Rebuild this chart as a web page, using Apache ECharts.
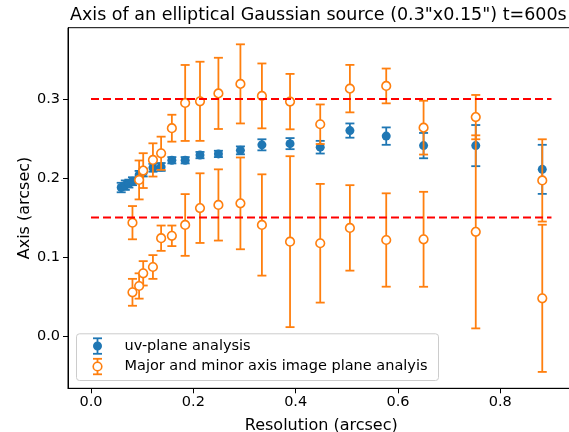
<!DOCTYPE html>
<html>
<head>
<meta charset="utf-8">
<script src="https://cdn.jsdelivr.net/npm/echarts@6/dist/echarts.min.js"></script>
<style>html,body{margin:0;padding:0;background:#fff}#c{width:569px;height:432px}</style>
</head>
<body>
<div id="c"></div>
<script>
// ---- data ----
var titleText = 'Axis of an elliptical Gaussian source (0.3"x0.15") t=600s';
var xLabel = 'Resolution (arcsec)';
var yLabel = 'Axis (arcsec)';
var xTicks = [0.0, 0.2, 0.4, 0.6, 0.8];
var yTicks = [0.0, 0.1, 0.2, 0.3];

var uvX   = [0.059, 0.067, 0.074, 0.081, 0.094, 0.102, 0.121, 0.137, 0.158, 0.184, 0.213, 0.249, 0.292, 0.334, 0.389, 0.448, 0.506, 0.577, 0.650, 0.752, 0.882];
var uvY   = [0.188, 0.191, 0.193, 0.196, 0.204, 0.207, 0.213, 0.214, 0.2225, 0.2225, 0.229, 0.2305, 0.235, 0.242, 0.2435, 0.239, 0.260, 0.253, 0.241, 0.241, 0.211];
var uvErr = [0.006, 0.006, 0.005, 0.005, 0.005, 0.005, 0.005, 0.005, 0.004, 0.004, 0.004, 0.004, 0.005, 0.007, 0.007, 0.008, 0.009, 0.011, 0.016, 0.026, 0.031];

var imgX     = [0.081, 0.094, 0.102, 0.121, 0.137, 0.158, 0.184, 0.213, 0.249, 0.292, 0.334, 0.389, 0.448, 0.506, 0.577, 0.650, 0.752, 0.882];
var majorY   = [0.1436, 0.1976, 0.2094, 0.2229, 0.2313, 0.263, 0.2949, 0.297, 0.307, 0.319, 0.3038, 0.2966, 0.268, 0.313, 0.3164, 0.2637, 0.277, 0.197];
var majorErr = [0.021, 0.0246, 0.022, 0.021, 0.021, 0.017, 0.048, 0.050, 0.045, 0.050, 0.041, 0.035, 0.025, 0.030, 0.022, 0.034, 0.028, 0.052];
var minorY   = [0.0556, 0.0636, 0.0796, 0.0876, 0.124, 0.127, 0.1407, 0.162, 0.166, 0.168, 0.1407, 0.1196, 0.1176, 0.137, 0.1217, 0.1226, 0.132, 0.048];
var minorErr = [0.017, 0.016, 0.0154, 0.015, 0.016, 0.013, 0.039, 0.044, 0.045, 0.058, 0.064, 0.108, 0.075, 0.054, 0.059, 0.060, 0.122, 0.093];

var refLevels = [0.3, 0.15];
var refXRange = [0.0, 0.9];

var legendNames = ['uv-plane analysis', 'Major and minor axis image plane analyis'];

// ---- build ----
var BLUE = '#1f77b4', ORANGE = '#ff7f0e';
var FONT = 'DejaVu Sans';

var uvData = uvX.map(function (x, i) { return [x, uvY[i], uvErr[i]]; });
var imgData = [];
imgX.forEach(function (x, i) { imgData.push([x, majorY[i], majorErr[i]]); });
imgX.forEach(function (x, i) { imgData.push([x, minorY[i], minorErr[i]]); });

function errRender(color, cap) {
  return function (params, api) {
    var x = api.value(0), y = api.value(1), e = api.value(2);
    var t = api.coord([x, y + e]), b = api.coord([x, y - e]);
    var st = { stroke: color, lineWidth: 1.8 };
    return { type: 'group', children: [
      { type: 'line', shape: { x1: t[0], y1: t[1], x2: b[0], y2: b[1] }, style: st },
      { type: 'line', shape: { x1: t[0] - cap, y1: t[1], x2: t[0] + cap, y2: t[1] }, style: st },
      { type: 'line', shape: { x1: b[0] - cap, y1: b[1], x2: b[0] + cap, y2: b[1] }, style: st }
    ]};
  };
}

var series = [
  { type: 'custom', name: legendNames[0], data: uvData, encode: { x: 0, y: 1 }, renderItem: errRender(BLUE, 4.5), z: 2, silent: true },
  { type: 'scatter', data: uvData, symbol: 'circle', symbolSize: 9, itemStyle: { color: BLUE, opacity: 1 }, z: 3, silent: true },
  { type: 'custom', name: legendNames[1], data: imgData, encode: { x: 0, y: 1 }, renderItem: errRender(ORANGE, 4.5), z: 4, silent: true },
  { type: 'scatter', data: imgData, symbol: 'circle', symbolSize: 8.6, itemStyle: { color: '#ffffff', borderColor: ORANGE, borderWidth: 1.6, opacity: 1 }, z: 5, silent: true }
];
refLevels.forEach(function (lv) {
  series.push({ type: 'line', data: [[refXRange[0], lv], [refXRange[1], lv]], symbol: 'none', silent: true, z: 6,
    lineStyle: { color: '#ff0000', width: 2, type: [8, 4] } });
});

function fmt(v) { return v.toFixed(1); }

var chart = echarts.init(document.getElementById('c'), null, { renderer: 'canvas' });
chart.setOption({
  backgroundColor: '#ffffff',
  animation: false,
  title: { text: titleText, left: 70, top: 6, padding: 0,
    textStyle: { fontFamily: FONT, fontSize: 17.5, fontWeight: 'normal', color: '#000' } },
  grid: { left: 68, top: 27.7, bottom: 43.7, right: -5.5, outerBoundsMode: 'none', containLabel: false,
    show: true, borderColor: '#000', borderWidth: 1, backgroundColor: 'transparent' },
  xAxis: {
    type: 'value', min: -0.045, max: 0.945,
    name: xLabel, nameLocation: 'middle', nameGap: 30, nameMoveOverlap: false,
    nameTextStyle: { fontFamily: FONT, fontSize: 16, color: '#000' },
    axisLine: { show: true, onZero: false, lineStyle: { color: '#000', width: 1 } },
    axisTick: { show: true, length: 5, lineStyle: { color: '#000', width: 1 }, customValues: xTicks },
    axisLabel: { customValues: xTicks, formatter: fmt, fontFamily: FONT, fontSize: 14.5, color: '#000', margin: 6 },
    splitLine: { show: false }
  },
  yAxis: {
    type: 'value', min: -0.0657, max: 0.390,
    name: yLabel, nameLocation: 'middle', nameGap: 35, nameMoveOverlap: false,
    nameTextStyle: { fontFamily: FONT, fontSize: 16, color: '#000' },
    axisLine: { show: true, onZero: false, lineStyle: { color: '#000', width: 1 } },
    axisTick: { show: true, length: 5, lineStyle: { color: '#000', width: 1 }, customValues: yTicks },
    axisLabel: { customValues: yTicks, formatter: fmt, fontFamily: FONT, fontSize: 14.5, color: '#000', margin: 8 },
    splitLine: { show: false }
  },
  series: series,
  graphic: [
    { type: 'group', left: 76, top: 333.3, z: 100, children: [
      { type: 'rect', shape: { x: 0, y: 0, width: 362, height: 46.7, r: 3 },
        style: { fill: 'rgba(255,255,255,0.8)', stroke: '#cccccc', lineWidth: 1 } },
      // entry 1
      { type: 'line', shape: { x1: 21, y1: 4.5, x2: 21, y2: 20 }, style: { stroke: BLUE, lineWidth: 1.8 } },
      { type: 'line', shape: { x1: 16.5, y1: 4.5, x2: 25.5, y2: 4.5 }, style: { stroke: BLUE, lineWidth: 1.8 } },
      { type: 'line', shape: { x1: 16.5, y1: 20, x2: 25.5, y2: 20 }, style: { stroke: BLUE, lineWidth: 1.8 } },
      { type: 'circle', shape: { cx: 21, cy: 12.2, r: 4.5 }, style: { fill: BLUE } },
      { type: 'text', x: 48, y: 12.2, style: { text: legendNames[0], fontFamily: FONT, fontSize: 14.5, fill: '#000', verticalAlign: 'middle', align: 'left' } },
      // entry 2
      { type: 'line', shape: { x1: 21, y1: 25, x2: 21, y2: 40.5 }, style: { stroke: ORANGE, lineWidth: 1.8 } },
      { type: 'line', shape: { x1: 16.5, y1: 25, x2: 25.5, y2: 25 }, style: { stroke: ORANGE, lineWidth: 1.8 } },
      { type: 'line', shape: { x1: 16.5, y1: 40.5, x2: 25.5, y2: 40.5 }, style: { stroke: ORANGE, lineWidth: 1.8 } },
      { type: 'circle', shape: { cx: 21, cy: 32.7, r: 4.3 }, style: { fill: '#fff', stroke: ORANGE, lineWidth: 1.6 } },
      { type: 'text', x: 48, y: 32.7, style: { text: legendNames[1], fontFamily: FONT, fontSize: 14.5, fill: '#000', verticalAlign: 'middle', align: 'left' } }
    ]}
  ]
});
</script>
</body>
</html>
